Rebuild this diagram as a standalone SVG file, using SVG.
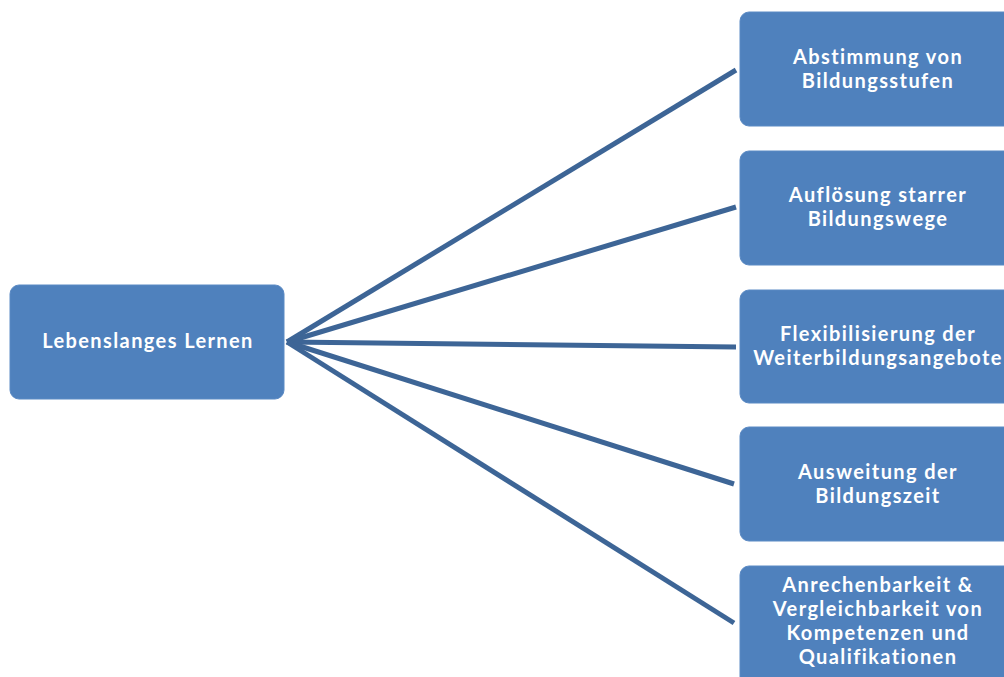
<svg xmlns="http://www.w3.org/2000/svg" width="1004" height="677" viewBox="0 0 1004 677">
<style>
.box{fill:#4F81BD;stroke:#5B8AC4;stroke-width:1}
.t{font-family:Lato,"Liberation Sans",sans-serif;font-weight:700;font-size:20px;letter-spacing:1.4px;fill:#FFFFFF;text-anchor:middle}
.c{stroke:#3D6596;stroke-width:5;fill:none;stroke-linecap:butt}
</style>
<rect width="1004" height="677" fill="#FFFFFF"/>
<g id="connectors">
<line class="c" x1="287" y1="342" x2="736" y2="70"/>
<line class="c" x1="287" y1="342" x2="736" y2="207"/>
<line class="c" x1="287" y1="342" x2="736" y2="347"/>
<line class="c" x1="287" y1="342" x2="734" y2="484"/>
<line class="c" x1="287" y1="342" x2="734" y2="623"/>
</g>
<g id="n0">
<rect class="box" x="10" y="285" width="274" height="114" rx="9"/>
<text class="t" x="148" y="348">Lebenslanges Lernen</text>
</g>
<g id="n1">
<rect class="box" x="740" y="12" width="274" height="114" rx="9"/>
<text class="t" x="878" y="64">Abstimmung von</text>
<text class="t" x="878" y="88">Bildungsstufen</text>
</g>
<g id="n2">
<rect class="box" x="740" y="151" width="274" height="114" rx="9"/>
<text class="t" x="878" y="202">Auflösung starrer</text>
<text class="t" x="878" y="226">Bildungswege</text>
</g>
<g id="n3">
<rect class="box" x="740" y="290" width="274" height="113" rx="9"/>
<text class="t" x="878" y="341">Flexibilisierung der</text>
<text class="t" x="878" y="365">Weiterbildungsangebote</text>
</g>
<g id="n4">
<rect class="box" x="740" y="427" width="274" height="114" rx="9"/>
<text class="t" x="878" y="479">Ausweitung der</text>
<text class="t" x="878" y="503">Bildungszeit</text>
</g>
<g id="n5">
<rect class="box" x="740" y="566" width="274" height="120" rx="9"/>
<text class="t" x="878" y="592">Anrechenbarkeit &amp;</text>
<text class="t" x="878" y="616">Vergleichbarkeit  von</text>
<text class="t" x="878" y="640">Kompetenzen und</text>
<text class="t" x="878" y="664">Qualifikationen</text>
</g>
</svg>
